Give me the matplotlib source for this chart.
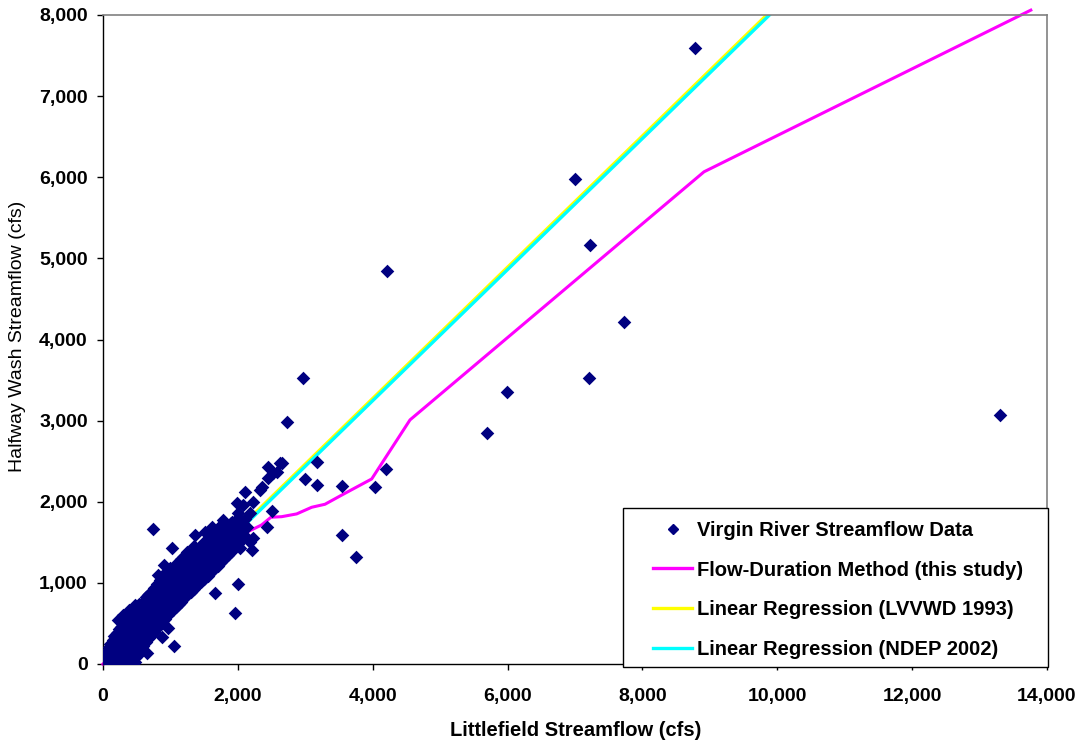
import matplotlib
matplotlib.use("Agg")
import matplotlib.pyplot as plt
from matplotlib.ticker import FuncFormatter
from matplotlib.lines import Line2D
from matplotlib.patches import Rectangle

# ---------------- data ----------------
# dense band of daily observations (columns: x value, list of y values)
band_x = [10, 30, 50, 70, 90, 110, 130, 150, 170, 190, 210, 230, 250, 270, 300,
          330, 360, 390, 420, 450, 480, 510, 540, 570, 600, 640, 680, 720, 760,
          800, 840, 880, 920, 960, 1000, 1040, 1080, 1120, 1160, 1200, 1250, 1300,
          1350, 1400, 1450, 1500, 1550, 1600, 1650, 1700, 1750, 1800, 1850, 1900,
          1950, 2000, 2050, 2100]
band_y = [
    [0, 20, 60],
    [10, 60, 110],
    [20, 70, 140],
    [10, 50, 110, 170],
    [30, 90, 150, 210],
    [10, 60, 130, 200, 250],
    [30, 100, 170, 260],
    [10, 70, 140, 220, 300],
    [40, 110, 190, 270, 340],
    [10, 80, 160, 240, 320],
    [40, 120, 200, 290, 380],
    [20, 90, 170, 260, 350, 430],
    [50, 130, 220, 310, 400],
    [20, 100, 190, 280, 370, 460],
    [60, 150, 240, 330, 420, 520, 600],
    [20, 110, 200, 290, 380, 470, 560],
    [60, 150, 240, 330, 420, 510, 620],
    [20, 110, 200, 290, 380, 470, 560, 660],
    [70, 160, 250, 340, 430, 520, 610],
    [120, 210, 300, 390, 480, 570, 680],
    [80, 170, 260, 350, 440, 530, 620, 720],
    [140, 230, 320, 410, 500, 590, 690],
    [190, 280, 370, 460, 550, 640, 740],
    [150, 240, 330, 420, 510, 600, 700],
    [220, 310, 400, 490, 580, 670, 770],
    [270, 360, 450, 540, 630, 720, 820],
    [320, 410, 500, 590, 680, 770, 860],
    [370, 460, 550, 640, 730, 820],
    [400, 490, 580, 670, 760, 850, 940],
    [440, 530, 620, 710, 800, 890, 980],
    [480, 570, 660, 750, 840, 930, 1030],
    [520, 610, 700, 790, 880, 970, 1080],
    [560, 650, 740, 830, 920, 1010, 1110],
    [600, 690, 780, 870, 960, 1050],
    [640, 730, 820, 910, 1000, 1090, 1180],
    [670, 760, 850, 940, 1030, 1120],
    [700, 790, 880, 970, 1060, 1150, 1230],
    [740, 830, 920, 1010, 1100, 1190],
    [770, 860, 950, 1040, 1130, 1220, 1300],
    [810, 900, 990, 1080, 1170, 1260],
    [850, 940, 1030, 1120, 1210, 1300, 1380],
    [890, 980, 1070, 1160, 1250, 1340],
    [930, 1020, 1110, 1200, 1290, 1380, 1460],
    [970, 1060, 1150, 1240, 1330, 1420],
    [1010, 1100, 1190, 1280, 1370, 1460],
    [1050, 1140, 1230, 1320, 1410, 1500],
    [1090, 1180, 1270, 1360, 1450, 1540],
    [1130, 1220, 1310, 1400, 1490, 1580],
    [1170, 1260, 1350, 1440, 1530, 1620],
    [1210, 1300, 1390, 1480, 1570, 1660],
    [1260, 1350, 1440, 1530, 1620, 1710],
    [1300, 1390, 1480, 1570, 1660],
    [1340, 1430, 1520, 1610, 1700],
    [1380, 1470, 1560, 1650, 1740],
    [1430, 1520, 1610, 1700],
    [1480, 1570, 1660, 1750, 1860],
    [1530, 1620, 1710],
    [1580, 1680, 1790],
]

# scattered individual observations
obs_x = [2452, 2650, 2575, 2526, 2452, 2328, 2353, 2106, 2229, 1982, 2081, 2500,
         2180, 2007, 1784, 1908, 2130, 2427, 746, 1611, 2229, 2180, 2205, 2032,
         1364, 1513, 1018, 1191, 1463, 909, 1068, 820, 2007, 1661, 1958, 672,
         969, 870, 1057, 648, 475, 227, 475, 2625,
         2971, 2733, 3178, 2996, 3169, 3549, 4034, 4197, 3549, 3752,
         8780, 7000, 7222, 7727, 7207, 5991, 5695, 4212, 13303]
obs_y = [2433, 2474, 2371, 2351, 2290, 2146, 2186, 2125, 2002, 1982, 1961, 1891,
         1858, 1796, 1776, 1755, 1693, 1685, 1661, 1685, 1549, 1508, 1406, 1426,
         1591, 1631, 1426, 1323, 1447, 1221, 1179, 1097, 986, 879, 633, 851,
         440, 329, 222, 140, 28, 543, 728, 2482,
         3522, 2988, 2486, 2277, 2207, 2199, 2180, 2400, 1591, 1323,
         7596, 5980, 5166, 4217, 3527, 3354, 2848, 4846, 3070]

# Flow-duration method curve
fd_x = [0, 300, 700, 1172, 1735, 1883, 2130, 2352, 2491, 2650, 2872, 3095,
        3292, 3564, 3985, 4553, 8913, 13760]
fd_y = [0, 230, 560, 1000, 1500, 1591, 1624, 1714, 1809, 1816, 1850, 1932,
        1969, 2093, 2281, 3009, 6067, 8060]

# Linear regressions
lvvwd_x = [0, 10000]
lvvwd_y = [37, 8127]
ndep_x = [0, 10000]
ndep_y = [14, 8094]

x_ticks = [0, 2000, 4000, 6000, 8000, 10000, 12000, 14000]
y_ticks = [0, 1000, 2000, 3000, 4000, 5000, 6000, 7000, 8000]

labels = ["Virgin River Streamflow Data",
          "Flow-Duration Method (this study)",
          "Linear Regression (LVVWD 1993)",
          "Linear Regression (NDEP 2002)"]

# ---------------- plot ----------------
plt.rcParams['font.family'] = ['Liberation Sans', 'DejaVu Sans']

W, H = 1083, 744
fig = plt.figure(figsize=(W / 100, H / 100), dpi=100, facecolor='white')
ax = fig.add_axes([103 / W, 1 - 664 / H, (1047 - 103) / W, (664 - 15) / H])

sx, sy = [], []
for xv, ylist in zip(band_x, band_y):
    for yv in ylist:
        sx.append(xv)
        sy.append(yv)
sx += obs_x
sy += obs_y

navy = '#000080'
ax.plot(lvvwd_x, lvvwd_y, color='#FFFF00', lw=2.4, zorder=2, solid_capstyle='butt')
ax.plot(ndep_x, ndep_y, color='#00FFFF', lw=2.4, zorder=2.1, solid_capstyle='butt')
ax.plot(fd_x, fd_y, color='#FF00FF', lw=2.2, zorder=2.2, clip_on=False)
ax.scatter(sx, sy, marker='D', s=48, color=navy, linewidths=0, zorder=3)

ax.set_xlim(0, 14000)
ax.set_ylim(0, 8000)
ax.set_xticks(x_ticks)
ax.set_yticks(y_ticks)
fmt = FuncFormatter(lambda v, p: f"{int(v):,}")
ax.xaxis.set_major_formatter(fmt)
ax.yaxis.set_major_formatter(fmt)
ax.tick_params(axis='both', direction='out', length=4, width=1, color='black',
               labelsize=14)
ax.tick_params(axis='x', pad=13)
ax.tick_params(axis='y', pad=7)
for lab in ax.get_xticklabels() + ax.get_yticklabels():
    lab.set_fontweight('bold')

for s in ['left', 'bottom']:
    ax.spines[s].set_color('black')
    ax.spines[s].set_linewidth(1)
for s in ['top', 'right']:
    ax.spines[s].set_color('#808080')
    ax.spines[s].set_linewidth(1.2)

fig.text(18 / W, 1 - 336 / H, "Halfway Wash Streamflow (cfs)", rotation=90,
         ha='center', va='center', fontsize=14)
fig.text(576 / W, 1 - 730 / H, "Littlefield Streamflow (cfs)",
         ha='center', va='center', fontsize=14.5, fontweight='bold')

# legend box
box = Rectangle((623 / W, 1 - 667 / H), (1048 - 623) / W, (667 - 508) / H,
                transform=fig.transFigure, facecolor='white', edgecolor='black',
                linewidth=1, zorder=4, clip_on=False)
ax.add_artist(box)

handles = [Line2D([], [], marker='D', color=navy, linestyle='none', markersize=5),
           Line2D([], [], color='#FF00FF', lw=2.4),
           Line2D([], [], color='#FFFF00', lw=2.4),
           Line2D([], [], color='#00FFFF', lw=2.4)]
leg = fig.legend(handles, labels, loc='upper left',
                 bbox_to_anchor=(653 / W, 1 - 521 / H),
                 frameon=False, borderpad=0, borderaxespad=0,
                 handlelength=1.95, handletextpad=0.25, labelspacing=1.02,
                 prop={'size': 14.5, 'weight': 'bold'})
leg.set_zorder(5)

fig.savefig("out.png", dpi=100, facecolor='white')
